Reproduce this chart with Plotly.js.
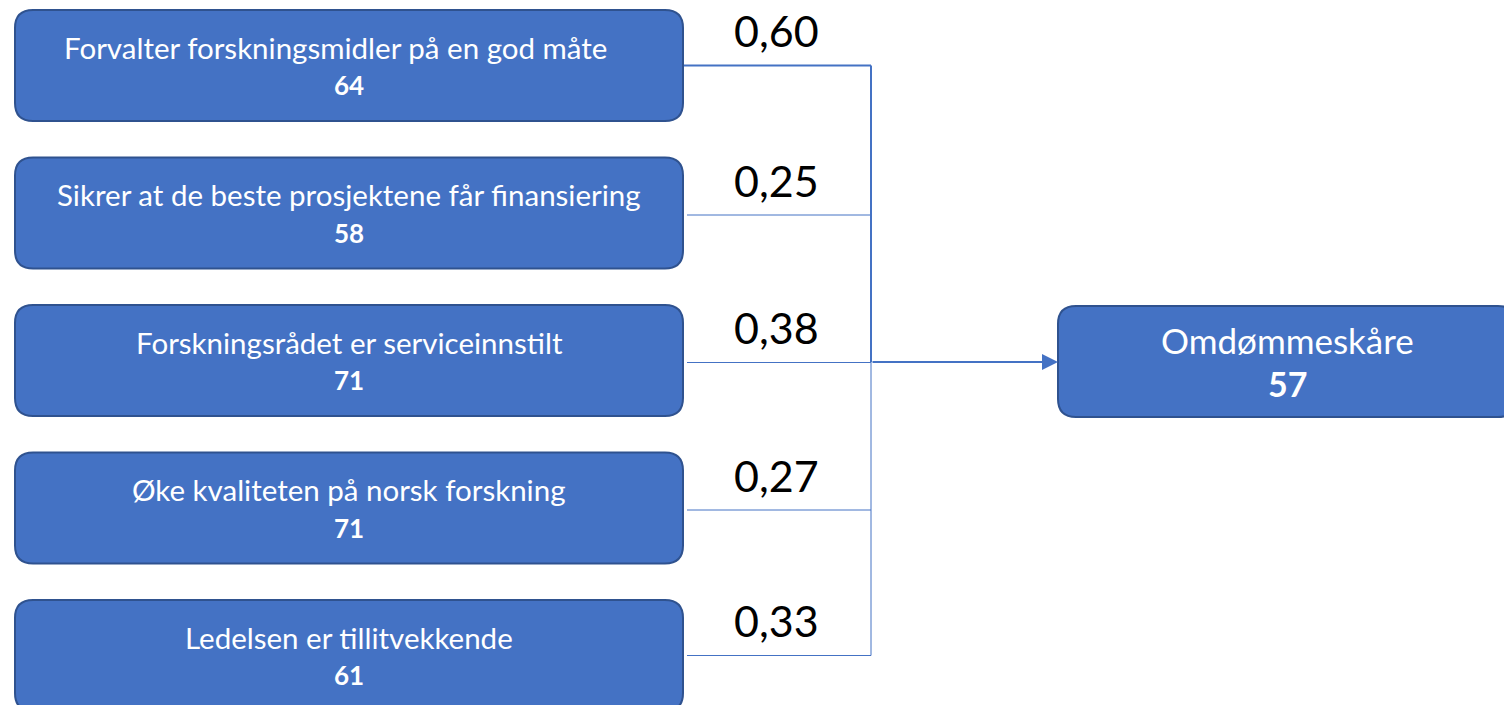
<!DOCTYPE html>
<html><head><meta charset="utf-8">
<script src="https://cdn.plot.ly/plotly-3.0.1.min.js"></script>
<style>html,body{margin:0;padding:0;background:#fff;}#chart{width:1504px;height:705px;}</style>
</head><body><div id="chart"></div>
<script>
// ---- data ----
const drivers = ["Forvalter forskningsmidler på en god måte", "Sikrer at de beste prosjektene får finansiering", "Forskningsrådet er serviceinnstilt", "Øke kvaliteten på norsk forskning", "Ledelsen er tillitvekkende"];
const driverScores = [64, 58, 71, 71, 61];
const weights = ["0,60", "0,25", "0,38", "0,27", "0,33"];
const outcomeName = "Omdømmeskåre";
const outcomeScore = 57;

// ---- layout constants (pixel space) ----
const W = 1504, H = 705;
const boxX0 = 15, boxX1 = 683, boxTop0 = 10, boxH = 111, boxStep = 147.5;
const busX = 871;
const outX0 = 1058, outX1 = 1516, outY0 = 306, outY1 = 417;
const fill = "#4472C4", border = "#2F528F", lineCol = "#4472C4";
const FONT = "Lato, 'Open Sans', sans-serif";

function rrect(x0, y0, x1, y1, r) {
  return `M${x0 + r},${y0} L${x1 - r},${y0} Q${x1},${y0} ${x1},${y0 + r} L${x1},${y1 - r} Q${x1},${y1} ${x1 - r},${y1} L${x0 + r},${y1} Q${x0},${y1} ${x0},${y1 - r} L${x0},${y0 + r} Q${x0},${y0} ${x0 + r},${y0} Z`;
}

const shapes = [], annotations = [], traces = [];
const centers = [];
drivers.forEach((name, i) => {
  const y0 = boxTop0 + i * boxStep, y1 = y0 + boxH;
  const cy = (y0 + y1) / 2;
  centers.push(cy);
  shapes.push({type: "path", path: rrect(boxX0, y0, boxX1, y1, 18), xref: "x", yref: "y",
    fillcolor: fill, line: {color: border, width: 2}, layer: "above"});
  annotations.push({x: (boxX0 + boxX1) / 2 - (i === 0 ? 14 : 0), y: cy - 18.5, xref: "x", yref: "y", text: name, showarrow: false,
    font: {family: FONT, size: 29.5, color: "#ffffff"}, xanchor: "center", yanchor: "middle"});
  annotations.push({x: (boxX0 + boxX1) / 2, y: cy + 19.5, xref: "x", yref: "y", text: "<b>" + driverScores[i] + "</b>", showarrow: false,
    font: {family: FONT, size: 26, color: "#ffffff"}, xanchor: "center", yanchor: "middle"});
  // connector
  const ly = cy + (i === 0 ? 0 : (i === 4 ? 0 : 2));
  traces.push({x: [boxX1 + (i === 0 ? 0 : 4), busX], y: [ly, ly], mode: "lines", hoverinfo: "skip",
    line: {color: lineCol, width: i === 0 ? 2 : 1}, showlegend: false});
  annotations.push({x: 776, y: ly - 35, xref: "x", yref: "y", text: weights[i], showarrow: false,
    font: {family: FONT, size: 43, color: "#000000"}, xanchor: "center", yanchor: "middle"});
});
const firstY = centers[0], lastY = centers[centers.length - 1];
const outCy = 362;
// bus line
traces.push({x: [busX, busX], y: [firstY, outCy], mode: "lines", hoverinfo: "skip", line: {color: lineCol, width: 2}, showlegend: false});
traces.push({x: [busX, busX], y: [outCy, lastY], mode: "lines", hoverinfo: "skip", line: {color: lineCol, width: 1}, showlegend: false});
// arrow
annotations.push({x: outX0, y: outCy, ax: busX, ay: outCy, xref: "x", yref: "y", axref: "x", ayref: "y",
  text: "", showarrow: true, arrowhead: 2, arrowsize: 1.6, arrowwidth: 2, arrowcolor: lineCol, standoff: 0});
// outcome box
shapes.push({type: "path", path: rrect(outX0, outY0, outX1, outY1, 18), xref: "x", yref: "y",
  fillcolor: fill, line: {color: border, width: 2}, layer: "above"});
annotations.push({x: 1287, y: 340, xref: "x", yref: "y", text: outcomeName, showarrow: false,
  font: {family: FONT, size: 35, color: "#ffffff"}, xanchor: "center", yanchor: "middle"});
annotations.push({x: 1287, y: 383, xref: "x", yref: "y", text: "<b>" + outcomeScore + "</b>", showarrow: false,
  font: {family: FONT, size: 34, color: "#ffffff"}, xanchor: "center", yanchor: "middle"});

Plotly.newPlot("chart", traces, {
  width: W, height: H, margin: {l: 0, r: 0, t: 0, b: 0},
  paper_bgcolor: "#ffffff", plot_bgcolor: "#ffffff",
  xaxis: {range: [0, W], visible: false, fixedrange: true},
  yaxis: {range: [H, 0], visible: false, fixedrange: true},
  shapes: shapes, annotations: annotations, showlegend: false
}, {displayModeBar: false, staticPlot: true});
</script></body></html>
